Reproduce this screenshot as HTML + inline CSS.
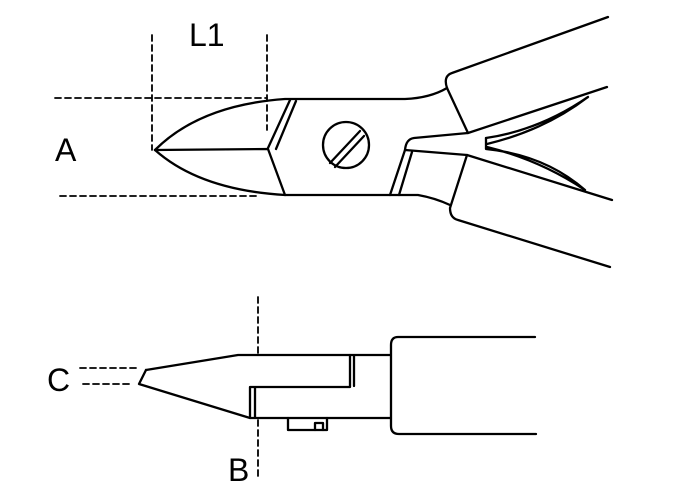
<!DOCTYPE html>
<html><head><style>
html,body{margin:0;padding:0;background:#fff;}
svg{display:block;}
text{font-family:"Liberation Sans",sans-serif;font-size:32px;fill:#000;}
</style></head><body>
<svg width="688" height="500" viewBox="0 0 688 500" xmlns="http://www.w3.org/2000/svg">
<g fill="none" stroke="#000" stroke-width="2.3" stroke-linecap="round" stroke-linejoin="round">
<g stroke-dasharray="6,4" stroke-width="1.8">
<line x1="152" y1="35" x2="152" y2="150"/>
<line x1="267" y1="35" x2="267" y2="130"/>
<line x1="55" y1="98" x2="267" y2="98"/>
<line x1="60" y1="196" x2="258" y2="196"/>
</g>
<path d="M155,150 Q200,105 285,99 L405,99 Q430,98 447,88"/>
<path d="M155,150 Q200,190 285,195 L418,195 Q435,198 450,205"/>
<path d="M155,150 L268,149 L285,195"/>
<path d="M268,148 L290,100"/>
<path d="M276,149 L296,101"/>
<circle cx="346" cy="145" r="23"/>
<path d="M330,163 L360,131 M335,167 L364,136"/>
<path d="M390,195 L405,150 Q406,139 414,138 L468,133 L607,87"/>
<path d="M399,195 L412,152"/>
<path d="M405,150 L467,155 L612,200"/>
<path d="M447,88 Q443,76 452,73 L608,17"/>
<path d="M447,88 L468,133"/>
<path d="M467,155 L450,208 Q450,218 458,220 L610,267"/>
<path d="M486,138 Q540,130 588,97 Q545,130 487,144"/>
<path d="M486,138 L486,149 Q545,155 585,190 Q540,160 487,147"/>
<g stroke-dasharray="6,4" stroke-width="1.8">
<line x1="258" y1="297" x2="258" y2="355"/>
<line x1="258" y1="420" x2="258" y2="480"/>
<line x1="80" y1="368" x2="140" y2="368"/>
<line x1="83" y1="384" x2="133" y2="384"/>
</g>
<path d="M146,370 L238,355 L390,355"/>
<path d="M146,370 L139,384 L250,418 L390,418"/>
<path d="M350,355 L350,387 L250,387 L250,418"/>
<path d="M354,356 L354,386 M255,388 L255,417"/>
<path d="M288,418 L288,430 L327,430 L327,418"/>
<path d="M315,430 L315,423 L323,423 L323,430"/>
<path d="M535,337 L398,337 Q391,337 391,345 L391,426 Q391,434 399,434 L536,434"/>
</g>
<text x="189" y="46">L1</text>
<text x="55" y="161">A</text>
<text x="47" y="391">C</text>
<text x="228" y="481">B</text>
</svg>
</body></html>
